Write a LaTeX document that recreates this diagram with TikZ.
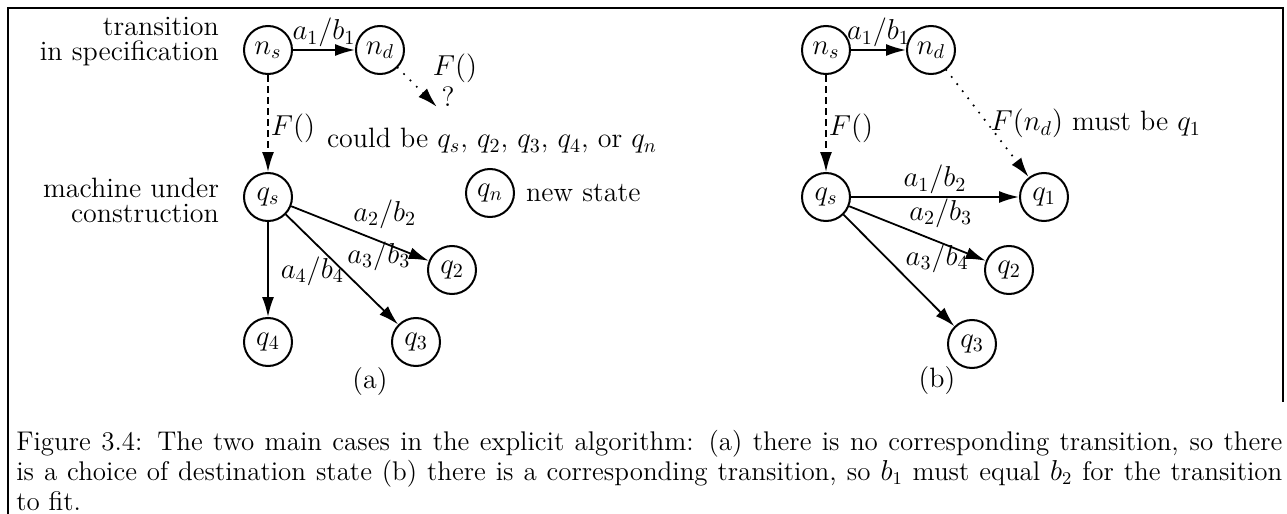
\documentclass[tikz,border=0pt]{standalone}
\usepackage{amsmath,amssymb}
\usepackage{xcolor}
\usetikzlibrary{arrows.meta,positioning}

\begin{document}
\begin{tikzpicture}[x=0.5pt, y=-0.5pt,
        every node/.style={font=\fontsize{14}{12.5}\selectfont},
        st/.style={draw, circle, line width=1pt, minimum size=24pt, inner sep=0pt},
        tr/.style={line width=0.9pt, -{Latex[length=10pt,width=6pt]}},
        mapd/.style={tr, dash pattern=on 3.5pt off 2pt},
        mapo/.style={tr, line width=1.2pt, line cap=round, dash pattern=on 0pt off 4.5pt},
        lab/.style={inner sep=1pt}]
        \useasboundingbox (0,0) rectangle (1287,514);
        \draw[line width=0.8pt] (8,514) -- (8,8) -- (1283,8) -- (1283,402);
        % (a): no corresponding transition
        \node[st] (sa) at (268,50) {$n_s$};
        \node[st] (da) at (380,50) {$n_d$};
        \node[st] (qsa) at (268,197) {$q_s$};
        \node[st] (q2a) at (452,270) {$q_2$};
        \node[st] (q3a) at (416,342) {$q_3$};
        \node[st] (q4a) at (268,342) {$q_4$};
        \node[st] (qna) at (490,193) {$q_n$};
        \node[right=2pt of qna] (newst) {new state};
        \node[anchor=east, align=right] (spec) at (226,42) {transition\\in specification};
        \node[anchor=east, align=right] (mach) at (226,200) {machine under\\construction};
        \coordinate (fa) at (437,107);
        \draw[tr] (sa) -- node[above, lab] {$a_1/b_1$} (da);
        \draw[mapd] (sa) -- node[right, lab, pos=0.55] {$F()$} (qsa);
        \draw[mapo] (da) -- (fa);
        \node (fqa) at (455,68) {$F()$};
        \node (qma) at (448,97) {?};
        \node[anchor=base west] (cb) at (320,148) {could be $q_s$, $q_2$, $q_3$, $q_4$, or $q_n$};
        \draw[tr] (qsa) -- node[pos=0.68, above=6pt, lab] {$a_2/b_2$} (q2a);
        \draw[tr] (qsa) -- node[pos=0.38, right=8pt, lab] {$a_3/b_3$} (q3a);
        \draw[tr] (qsa) -- node[pos=0.52, right=5pt, lab] {$a_4/b_4$} (q4a);
        \node (capa) at (370,382) {(a)};
        % (b): corresponding transition exists
        \node[st] (sb) at (826,50) {$n_s$};
        \node[st] (db) at (931,50) {$n_d$};
        \node[st] (qsb) at (826,197) {$q_s$};
        \node[st] (q1b) at (1044,197) {$q_1$};
        \node[st] (q2b) at (1009,270) {$q_2$};
        \node[st] (q3b) at (972,344) {$q_3$};
        \draw[tr] (sb) -- node[above, lab] {$a_1/b_1$} (db);
        \draw[mapd] (sb) -- node[right, lab, pos=0.55] {$F()$} (qsb);
        \draw[mapo] (db) -- node[right, pos=0.5, lab] {$F(n_d)$ must be $q_1$} (q1b);
        \draw[tr] (qsb) -- node[above, lab] {$a_1/b_2$} (q1b);
        \draw[tr] (qsb) -- node[pos=0.67, above=6pt, lab] {$a_2/b_3$} (q2b);
        \draw[tr] (qsb) -- node[pos=0.39, right=8pt, lab] {$a_3/b_4$} (q3b);
        \node (capb) at (937,381) {(b)};
        % caption
        \node[anchor=north west, text width=633pt, align=justify, inner sep=0pt,
            font=\fontsize{13.5}{15}\selectfont] (cap) at (16,430)
            {\baselineskip=15pt Figure 3.4: The two main cases in the explicit algorithm: (a) there is no corresponding transition, so there\linebreak
            is a choice of destination state (b) there is a corresponding transition, so $b_1$ must equal $b_2$ for the transition\linebreak
            to fit.};
    \end{tikzpicture}
\end{document}
